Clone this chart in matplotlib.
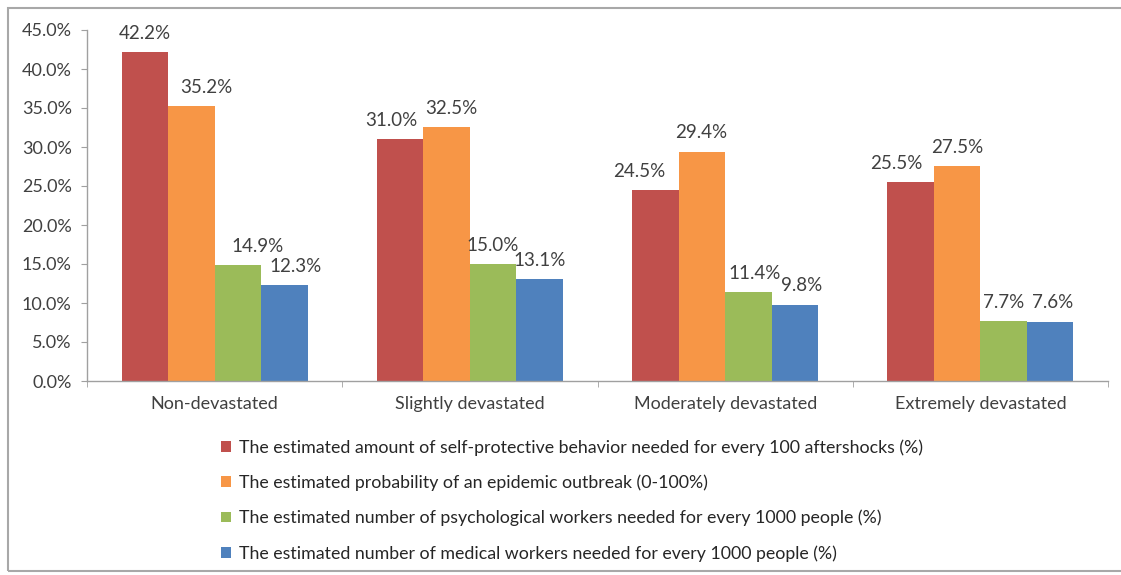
import matplotlib
matplotlib.use("Agg")
import matplotlib.pyplot as plt
from matplotlib.patches import Rectangle, Patch
import numpy as np

plt.rcParams['font.family'] = ['Lato', 'DejaVu Sans']

categories = ["Non-devastated", "Slightly devastated", "Moderately devastated", "Extremely devastated"]
series_names = [
    "The estimated amount of self-protective behavior needed for every 100 aftershocks (%)",
    "The estimated probability of an epidemic outbreak (0-100%)",
    "The estimated number of psychological workers needed for every 1000 people (%)",
    "The estimated number of medical workers needed for every 1000 people (%)",
]
self_protective = [42.2, 31.0, 24.5, 25.5]
epidemic = [35.2, 32.5, 29.4, 27.5]
psychological = [14.9, 15.0, 11.4, 7.7]
medical = [12.3, 13.1, 9.8, 7.6]
yticks = [0, 5, 10, 15, 20, 25, 30, 35, 40, 45]

colors = ["#C0504D", "#F79646", "#9BBB59", "#4F81BD"]
series = [self_protective, epidemic, psychological, medical]

# horizontal nudges (pixels) of the data labels, as placed in the original chart
# indexed [series][category]
label_nudge_px = [
    [0, -9, -16, -14],
    [15, 5, -1, 0],
    [20, 0, 6, 0],
    [11, 0, 7, 3],
]

W, H = 1121, 575
fig = plt.figure(figsize=(W / 100, H / 100), dpi=100)
ax = fig.add_axes([87 / W, 1 - 381 / H, (1108 - 87) / W, (381 - 30) / H])

x = np.arange(len(categories))
bw = 0.182
text_col = "#404040"
fs = 13
for i, (vals, c) in enumerate(zip(series, colors)):
    pos = x + (i - 1.5) * bw
    bars = ax.bar(pos, vals, width=bw, color=c, edgecolor='none', label=series_names[i])
    for j, (b, v) in enumerate(zip(bars, vals)):
        ax.annotate(f"{v:.1f}%", (b.get_x() + b.get_width() / 2, v),
                    xytext=(label_nudge_px[i][j] * 0.72, 13.5), textcoords='offset points',
                    ha='center', va='center', fontsize=13.5, color=text_col)

ax.set_xlim(-0.5, len(categories) - 0.5)
ax.set_ylim(0, 45)
ax.set_yticks(yticks)
ax.set_yticklabels([f"{t:.1f}%" for t in yticks], fontsize=fs, color=text_col)
ax.set_xticks(x)
ax.set_xticklabels(categories, fontsize=fs, color=text_col)
ax.tick_params(axis='x', length=0, pad=11)
ax.set_xticks(np.arange(len(categories) + 1) - 0.5, minor=True)
ax.tick_params(axis='x', which='minor', length=4, color='#A0A0A0', direction='out')
ax.tick_params(axis='y', length=4, color='#A0A0A0', direction='out', pad=7)
for s in ['top', 'right']:
    ax.spines[s].set_visible(False)
for s in ['left', 'bottom']:
    ax.spines[s].set_color('#A0A0A0')
    ax.spines[s].set_linewidth(1)

handles = [Patch(facecolor=c, edgecolor='none') for c in colors]
fig.legend(handles, series_names, loc='upper left',
           bbox_to_anchor=(216 / W, 1 - 434 / H), frameon=False,
           fontsize=12.8, handlelength=0.55, handleheight=0.55,
           handletextpad=0.45, labelspacing=1.05, labelcolor='#262626',
           borderaxespad=0, borderpad=0.3)

fig.patches.append(Rectangle((8 / W, 4 / H), 1.0, 1 - 12 / H, transform=fig.transFigure,
                             fill=False, edgecolor='#A8A8A8', linewidth=1.5))

fig.savefig("out.png", dpi=100, facecolor='white')
